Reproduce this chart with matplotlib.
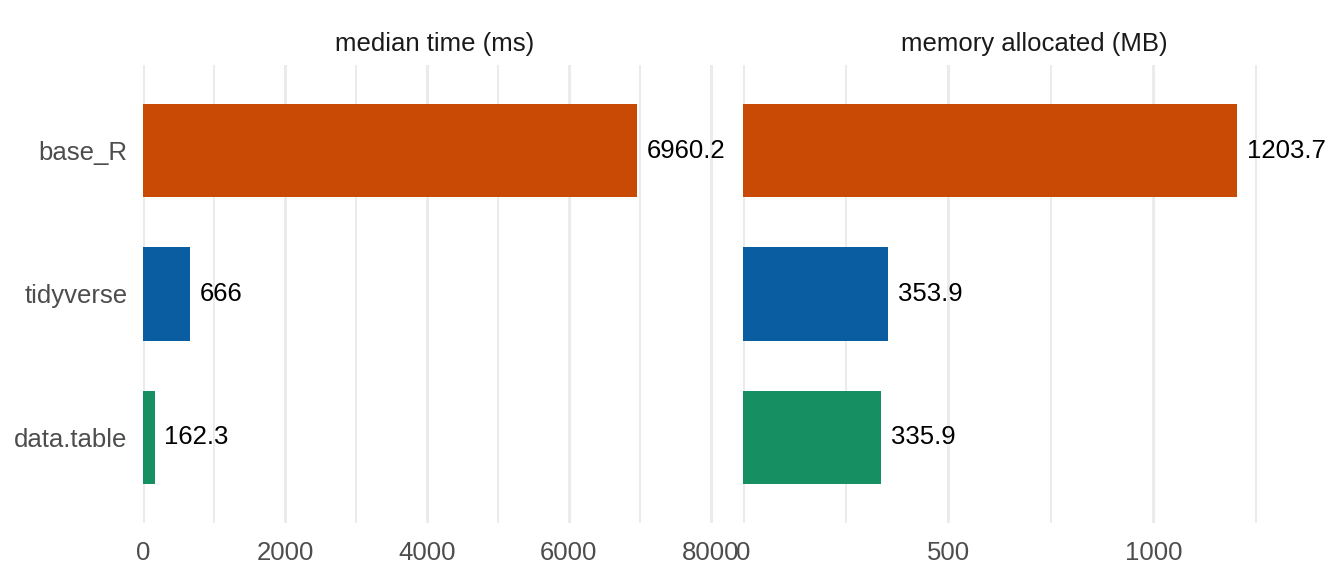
import matplotlib.pyplot as plt
from matplotlib.ticker import FixedLocator

plt.rcParams['font.family'] = ['Liberation Sans', 'DejaVu Sans']

# data
methods = ['base_R', 'tidyverse', 'data.table']
median_time_ms = [6960.2, 666, 162.3]
memory_mb = [1203.7, 353.9, 335.9]
bar_colors = ['#C84A04', '#0B5DA2', '#168F62']

panel_titles = ['median time (ms)', 'memory allocated (MB)']
major_ticks = [[0, 2000, 4000, 6000, 8000], [0, 500, 1000]]
minor_ticks = [[1000, 3000, 5000, 7000], [250, 750, 1250]]

fig = plt.figure(figsize=(13.44, 5.76), dpi=100)
ax1 = fig.add_axes([143 / 1344, 1 - 523 / 576, 583 / 1344, 458 / 576])
ax2 = fig.add_axes([743 / 1344, 1 - 523 / 576, 583 / 1344, 458 / 576])


def draw_panel(ax, values, title, majors, minors, show_labels):
    ypos = list(range(len(methods)))
    ax.barh(ypos, values, height=0.65, color=bar_colors, zorder=2)
    for y, v in zip(ypos, values):
        label = f'{v:g}'
        ax.annotate(label, (v, y), xytext=(7, 0), textcoords='offset points',
                    ha='left', va='center', fontsize=18.5, color='black')
    ax.set_xlim(0, max(values) * 1.18)
    ax.set_ylim(len(methods) - 0.4, -0.6)
    ax.xaxis.set_major_locator(FixedLocator(majors))
    ax.xaxis.set_minor_locator(FixedLocator(minors))
    ax.grid(axis='x', which='major', color='#EBEBEB', linewidth=2.2, zorder=0)
    ax.grid(axis='x', which='minor', color='#EBEBEB', linewidth=1.4, zorder=0)
    ax.set_axisbelow(True)
    ax.tick_params(axis='both', which='both', length=0, labelsize=18.5,
                   labelcolor='#4D4D4D')
    ax.tick_params(axis='x', pad=13)
    ax.tick_params(axis='y', pad=11)
    ax.set_yticks(ypos)
    if show_labels:
        ax.set_yticklabels(methods)
    else:
        ax.set_yticklabels([])
    for s in ax.spines.values():
        s.set_visible(False)
    ax.set_title(title, fontsize=18.5, color='#1A1A1A', pad=10)


draw_panel(ax1, median_time_ms, panel_titles[0], major_ticks[0], minor_ticks[0], True)
draw_panel(ax2, memory_mb, panel_titles[1], major_ticks[1], minor_ticks[1], False)

fig.savefig('out.png', dpi=100)
